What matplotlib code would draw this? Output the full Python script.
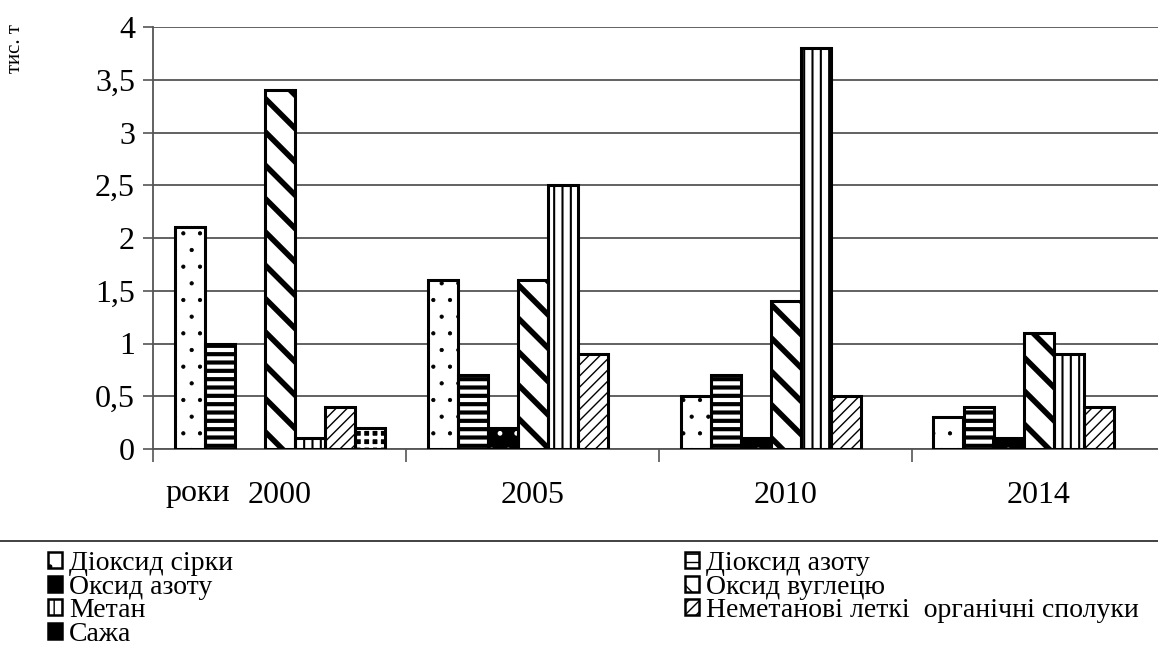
import numpy as np
import matplotlib
matplotlib.use("Agg")
import matplotlib.pyplot as plt
from matplotlib.patches import Patch
from matplotlib.lines import Line2D

plt.rcParams['font.family'] = ['Liberation Serif', 'DejaVu Serif']

roky = ["2000", "2005", "2010", "2014"]
sirka = [2.1, 1.6, 0.5, 0.3]
dioksyd_azotu = [1.0, 0.7, 0.7, 0.4]
oksyd_azotu = [0.0, 0.2, 0.1, 0.1]
oksyd_vuhletsiu = [3.4, 1.6, 1.4, 1.1]
metan = [0.1, 2.5, 3.8, 0.9]
nmlos = [0.4, 0.9, 0.5, 0.4]
sazha = [0.2, 0.0, 0.0, 0.0]

nazvy = ["Діоксид сірки", "Діоксид азоту", "Оксид азоту", "Оксид вуглецю",
         "Метан", "Неметанові леткі  органічні сполуки", "Сажа"]
yticks = [0, 0.5, 1, 1.5, 2, 2.5, 3, 3.5, 4]
ytick_labels = ["0", "0,5", "1", "1,5", "2", "2,5", "3", "3,5", "4"]

# (facecolor, hatch colour, hatch, hatch linewidth)
styli = [
    ("white", "black", ".", 0.6),
    ("white", "black", "--", 3.0),
    ("black", "white", ".", 1.0),
    ("white", "black", "\\", 4.0),
    ("white", "black", "||", 1.5),
    ("white", "black", "///", 1.0),
    ("black", "white", "++", 2.5),
]

serii = [sirka, dioksyd_azotu, oksyd_azotu, oksyd_vuhletsiu, metan, nmlos, sazha]

W, H = 1158, 668
fig = plt.figure(figsize=(W / 100, H / 100), dpi=100)
ax = fig.add_axes([153 / W, 1 - 449 / H, 1012 / W, 422 / H])

w = 30 / 253
x = np.arange(len(roky))
for i, (vals, (fc, hc, hatch, hlw)) in enumerate(zip(serii, styli)):
    vals = np.array(vals, dtype=float)
    vals[vals == 0] = np.nan
    pos = x + (i - 3) * w
    with plt.rc_context({'hatch.linewidth': hlw}):
        ax.bar(pos, vals, width=w, color=fc, edgecolor=hc, hatch=hatch,
               linewidth=0, zorder=3)
    ax.bar(pos, vals, width=w, fill=False, edgecolor="black",
           linewidth=2.2, zorder=4)

ax.set_xlim(-0.5, 3.5)
ax.set_ylim(0, 4)
ax.set_yticks(yticks)
ax.set_yticklabels(ytick_labels)
ax.yaxis.grid(True, color="#555555", linewidth=1.3, zorder=0)
ax.set_axisbelow(True)

ax.set_xticks([-0.5, 0.5, 1.5, 2.5])
ax.set_xticklabels([])
ax.set_xticks(x, minor=True)
ax.set_xticklabels(roky, minor=True)
ax.tick_params(axis="x", which="major", direction="out", length=9,
               color="#555555", width=1.2)
ax.tick_params(axis="x", which="minor", length=0, pad=23, labelsize=23)
ax.tick_params(axis="y", direction="out", length=7, color="#555555",
               width=1.2, labelsize=23, pad=6)

for s in ["top", "right"]:
    ax.spines[s].set_visible(False)
for s in ["left", "bottom"]:
    ax.spines[s].set_color("#555555")
    ax.spines[s].set_linewidth(1.3)

ax.text(12 / 1012, -44 / 422, "роки", transform=ax.transAxes, fontsize=23,
        ha="left", va="center")
fig.text(16 / W, 1 - 49 / H, "тис. т", rotation=90, fontsize=15,
         ha="center", va="center")

# separator above the legend
fig.add_artist(Line2D([0, 1], [1 - 541 / H, 1 - 541 / H],
                      transform=fig.transFigure, color="#333333", linewidth=1.3))

ruchky = []
for (fc, hc, hatch, hlw), nazva in zip(styli, nazvy):
    with plt.rc_context({'hatch.linewidth': min(hlw, 1.5)}):
        ruchky.append(Patch(facecolor=fc, edgecolor="black", hatch=hatch,
                            linewidth=1.8, label=nazva))

for idx, x0 in [([0, 2, 4, 6], 48), ([1, 3, 5], 685)]:
    fig.legend([ruchky[k] for k in idx], [nazvy[k] for k in idx],
               loc="upper left", bbox_to_anchor=(x0 / W, 1 - 551 / H),
               frameon=False, fontsize=20, handlelength=0.5,
               handleheight=0.5, handletextpad=0.25, labelspacing=-0.05,
               borderpad=0, borderaxespad=0)

fig.savefig("out.png", dpi=100)
